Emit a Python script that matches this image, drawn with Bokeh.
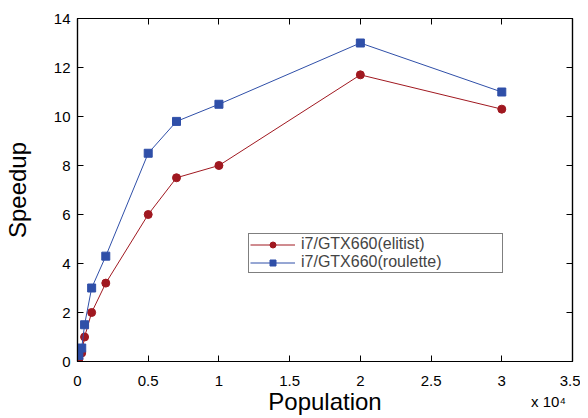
from bokeh.plotting import figure
from bokeh.models import (Range1d, FixedTicker, LinearAxis, Legend, LegendItem)
from bokeh.embed import file_html
from bokeh.resources import INLINE

population = [100, 300, 500, 1000, 2000, 5000, 7000, 10000, 20000, 30000]
elitist = [0.1, 0.35, 1.0, 2.0, 3.2, 6.0, 7.5, 8.0, 11.7, 10.3]
roulette = [0.25, 0.55, 1.5, 3.0, 4.3, 8.5, 9.8, 10.5, 13.0, 11.0]
x_ticks = [0, 5000, 10000, 15000, 20000, 25000, 30000, 35000]
x_tick_labels = ["0", "0.5", "1", "1.5", "2", "2.5", "3", "3.5"]
y_ticks = [0, 2, 4, 6, 8, 10, 12, 14]
x_scale_note = "x 10\u2074"
X_NOTE_POS = 33300

RED = "#a01820"
BLUE = "#2f4fa8"
FONT = "Liberation Sans"

p = figure(width=580, height=418, output_backend="svg", toolbar_location=None,
           x_range=Range1d(0, 35000), y_range=Range1d(0, 14),
           min_border_left=77, min_border_right=8, min_border_top=18, min_border_bottom=57)
p.grid.visible = False
p.outline_line_color = "black"
p.outline_line_width = 1.2
p.background_fill_color = "white"
p.border_fill_color = "white"

def style_axis(ax):
    ax.axis_line_color = "black"
    ax.axis_line_width = 1.2
    ax.major_tick_in = 6
    ax.major_tick_out = 0
    ax.minor_tick_in = 0
    ax.minor_tick_out = 0
    ax.major_tick_line_color = "black"
    ax.major_label_text_font = FONT
    ax.major_label_text_font_size = "15px"
    ax.major_label_text_color = "black"
    ax.axis_label_text_font = FONT
    ax.axis_label_text_font_size = "24px"
    ax.axis_label_text_font_style = "normal"
    ax.axis_label_text_color = "black"

xa = p.xaxis[0]
xa.ticker = FixedTicker(ticks=x_ticks)
xa.major_label_overrides = {t: l for t, l in zip(x_ticks, x_tick_labels)}
style_axis(xa)
xa.major_label_standoff = 14

# second bottom axis: carries the "x 10^4" note and the axis title
xa2 = LinearAxis(ticker=FixedTicker(ticks=[X_NOTE_POS]))
style_axis(xa2)
xa2.axis_line_color = None
xa2.major_tick_line_color = None
xa2.major_tick_in = 0
xa2.major_label_overrides = {X_NOTE_POS: x_scale_note}
xa2.major_label_text_font_size = "15px"
xa2.major_label_standoff = 4
xa2.axis_label = "Population"
xa2.axis_label_standoff = -25
p.add_layout(xa2, "below")

ya = p.yaxis[0]
ya.ticker = FixedTicker(ticks=y_ticks)
ya.axis_label = "Speedup"
style_axis(ya)
ya.major_label_standoff = 7
ya.axis_label_standoff = 20

top = LinearAxis(ticker=FixedTicker(ticks=x_ticks))
style_axis(top)
top.major_label_overrides = {t: "" for t in x_ticks}
top.major_label_standoff = 0
p.add_layout(top, "above")
right = LinearAxis(ticker=FixedTicker(ticks=y_ticks))
style_axis(right)
right.major_label_overrides = {t: "" for t in y_ticks}
right.major_label_standoff = 0
p.add_layout(right, "right")

l1 = p.line(population, elitist, line_color=RED, line_width=1)
s1 = p.scatter(population, elitist, marker="circle", size=8, fill_color=RED, line_color=RED)
l2 = p.line(population, roulette, line_color=BLUE, line_width=1)
s2 = p.scatter(population, roulette, marker="square", size=8, fill_color=BLUE, line_color=BLUE)

legend = Legend(items=[LegendItem(label="i7/GTX660(elitist)", renderers=[l1, s1]),
                       LegendItem(label="i7/GTX660(roulette)", renderers=[l2, s2])],
                location=(171, 88), orientation="vertical",
                label_text_font=FONT, label_text_font_size="16px",
                label_height=15, glyph_height=15, glyph_width=45, spacing=0,
                padding=1, margin=0, label_width=200, label_standoff=6,
                border_line_color="black", border_line_width=1,
                background_fill_alpha=1.0)
p.add_layout(legend, "center")

open("out.html", "w").write(file_html(p, INLINE))
